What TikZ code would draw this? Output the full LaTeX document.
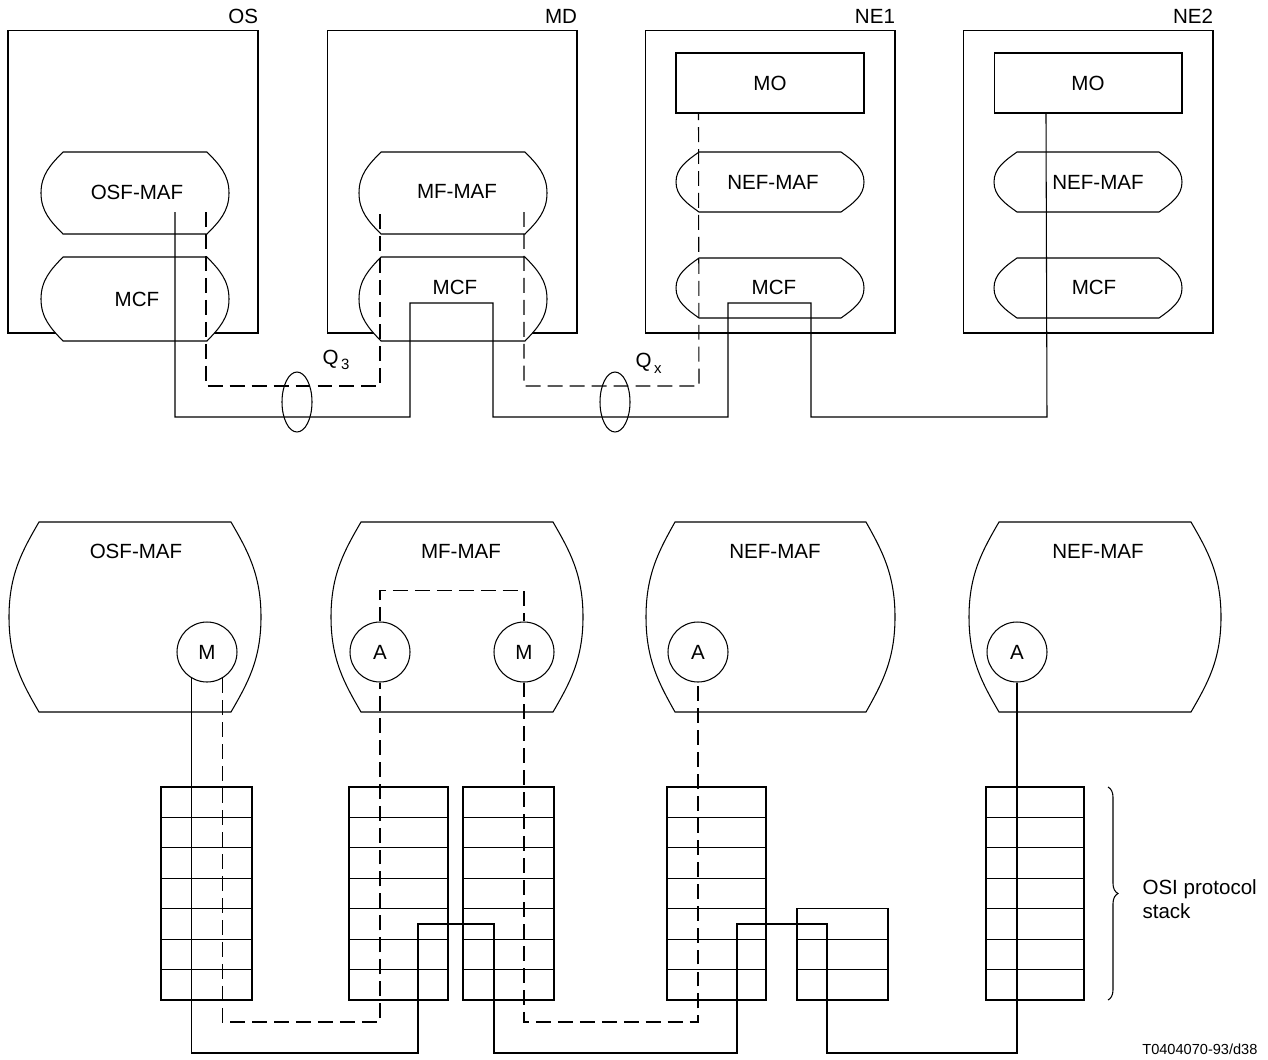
\documentclass[tikz,border=0pt]{standalone}
\usepackage{fontspec}
\setmainfont{Liberation Sans}
\usetikzlibrary{shapes.geometric,decorations.pathreplacing}

\newcommand{\barrel}[5]{%
  \pgfmathsetmacro\brlmid{(#3+#4)/2}%
  \pgfmathsetmacro\brlhalf{(#4-#3)/2}%
  \draw[fill=white] ({#1+#5},#3) -- ({#2-#5},#3)
    .. controls ({#2-0.45*#5},{#3+0.3*\brlhalf}) and (#2,{#3+0.55*\brlhalf}) .. (#2,\brlmid)
    .. controls (#2,{#4-0.55*\brlhalf}) and ({#2-0.45*#5},{#4-0.3*\brlhalf}) .. ({#2-#5},#4)
    -- ({#1+#5},#4)
    .. controls ({#1+0.45*#5},{#4-0.3*\brlhalf}) and (#1,{#4-0.55*\brlhalf}) .. (#1,\brlmid)
    .. controls (#1,{#3+0.55*\brlhalf}) and ({#1+0.45*#5},{#3+0.3*\brlhalf}) .. cycle;}

\begin{document}
\begin{tikzpicture}[x=0.02cm,y=-0.02cm,line width=0.6pt,
  font=\fontsize{11.7}{13.5}\selectfont,
  netbox/.style={draw,minimum width=5cm,minimum height=6.06cm,inner sep=0pt},
  mobox/.style={draw,fill=white,minimum width=3.76cm,minimum height=1.2cm,inner sep=0pt},
  port/.style={draw,fill=white,circle,minimum size=1.2cm,inner sep=0pt},
  ring/.style={draw,ellipse,minimum width=0.6cm,minimum height=1.2cm,inner sep=0pt},
  mgmt/.style={dash pattern=on 8.5pt off 4pt},
  boxlabel/.style={anchor=base east,inner sep=0pt}]
\useasboundingbox (0,0) rectangle (1268,1059);

\node[netbox] (os) at (133,181.5) {};
\node[netbox] (md) at (452,181.5) {};
\node[netbox] (ne1) at (770,181.5) {};
\node[netbox] (ne2) at (1088,181.5) {};
\node[boxlabel] (oslbl) at ([yshift=3.4pt]os.north east) {OS};
\node[boxlabel] (mdlbl) at ([yshift=3.4pt]md.north east) {MD};
\node[boxlabel] (ne1lbl) at ([yshift=3.4pt]ne1.north east) {NE1};
\node[boxlabel] (ne2lbl) at ([yshift=3.4pt]ne2.north east) {NE2};

\barrel{41}{229}{152}{234}{22}
\barrel{41}{229}{257}{341}{22}
\node (osmaf) at (137,192) {OSF-MAF};
\node (osmcf) at (137,299) {MCF};
\barrel{359}{547}{152}{234}{22}
\barrel{359}{547}{257}{341}{22}
\node (mdmaf) at (457,191) {MF-MAF};
\node (mdmcf) at (455,287) {MCF};
\node[mobox] (ne1mo) at (770,83) {MO};
\barrel{676}{864}{152}{212}{23}
\barrel{676}{864}{258}{318}{23}
\node (ne1maf) at (773,182) {NEF-MAF};
\node (ne1mcf) at (774,287) {MCF};
\node[mobox] (ne2mo) at (1088,83) {MO};
\barrel{994}{1182}{152}{212}{23}
\barrel{994}{1182}{258}{318}{23}
\node (ne2maf) at (1098,182) {NEF-MAF};
\node (ne2mcf) at (1094,287) {MCF};

\coordinate (ossol) at (175,212);
\coordinate (osdash) at (206,212);
\coordinate (mddl) at (380,212);
\coordinate (mddr) at (524,212);
\coordinate (ne1tap) at ([xshift=0.46cm]ne1mo.south west);
\coordinate (ne2tap) at ([xshift=1.05cm]ne2mo.south west);
\draw (ossol) |- (410,417) |- (493,303) |- (728,417) |- (811,303) |- (1047,417) -- (ne2tap);
\draw[mgmt] (osdash) |- (380,386) -- (mddl);
\draw[mgmt] (mddr) |- (699,386) -- (ne1tap);
\node[ring] (q3ring) at (297,402) {};
\node[ring] (qxring) at (615,402) {};
\node[anchor=base west,inner sep=0pt] (q3lbl) at (322,364) {Q\kern1.5pt\raisebox{-3.4pt}{\fontsize{8.5}{9}\selectfont 3}};
\node[anchor=base west,inner sep=0pt] (qxlbl) at (635,367) {Q\kern1.5pt\raisebox{-3.6pt}{\fontsize{8.5}{9}\selectfont x}};

\barrel{9}{261}{522}{712}{30}
\barrel{331}{583}{522}{712}{30}
\barrel{646}{895}{522}{712}{29}
\barrel{969}{1221}{522}{712}{30}
\node (osbig) at (136,551) {OSF-MAF};
\node (mdbig) at (461,551) {MF-MAF};
\node (ne1big) at (775,551) {NEF-MAF};
\node (ne2big) at (1098,551) {NEF-MAF};
\node[port] (osm) at (207,652) {M};
\node[port] (mda) at (380,652) {A};
\node[port] (mdm) at (524,652) {M};
\node[port] (nea1) at (698,652) {A};
\node[port] (nea2) at (1017,652) {A};

\foreach \sx/\sw/\rows in {161/91/7, 349/99/7, 463/91/7, 667/99/7, 797/91/3, 986/98/7}
  \foreach \r in {1,...,\rows}
    \draw (\sx,1000-\r*30.43) rectangle ++(\sw,30.43);

\draw[mgmt] (mda.north) -- ++(0,-31) -| (mdm.north);
\draw (osm.-120) |- (418,1053) |- (494,924) |- (737,1053) |- (827,924) |- (1017,1053) -- (nea2.south);
\draw[mgmt] (osm.-60) |- (380,1022) -- (mda.south);
\draw[mgmt] (mdm.south) |- (698,1022) -- (nea1.south);

\draw[decorate,decoration={brace,amplitude=0.2cm}] (1108,787) -- (1108,1000);
\node[anchor=west,align=left,inner sep=0pt] (osilbl) at (1142,899) {OSI protocol\\stack};
\node[anchor=base east,inner sep=0pt,font=\fontsize{8.3}{10}\selectfont] (figref) at (1258,1054) {T0404070-93/d38};
\end{tikzpicture}
\end{document}
